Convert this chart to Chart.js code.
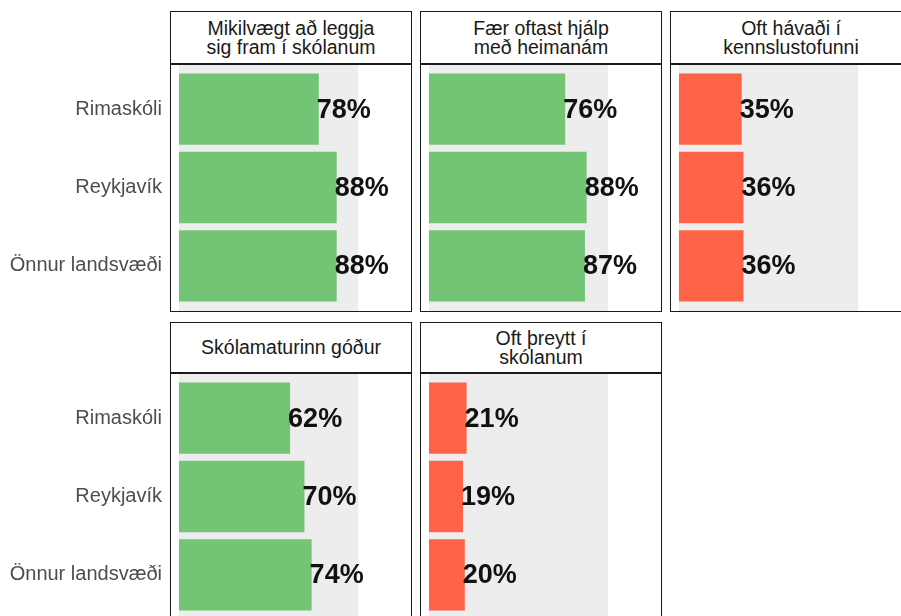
<!DOCTYPE html>
<html>
<head>
<meta charset="utf-8">
<script src="https://cdn.jsdelivr.net/npm/chart.js@4.4.1/dist/chart.umd.min.js"></script>
<style>
  body { margin: 0; background: #fff; font-family: Arial, "Liberation Sans", sans-serif; }
  #wrap { position: relative; width: 901px; height: 616px; overflow: hidden; }
  canvas { position: absolute; }
  .box { position: absolute; border: 1.5px solid #1a1a1a; box-sizing: border-box; pointer-events: none; }
  .head { position: absolute; border: 1.5px solid #1a1a1a; box-sizing: border-box; background: #fff;
          display: flex; align-items: center; justify-content: center; text-align: center;
          font-size: 19.5px; line-height: 19px; color: #1a1a1a; }
</style>
</head>
<body>
<div id="wrap"></div>
<script>
// data
const categories = ['Rimaskóli', 'Reykjavík', 'Önnur landsvæði'];
const panelTitles = [
  ['Mikilvægt að leggja', 'sig fram í skólanum'],
  ['Fær oftast hjálp', 'með heimanám'],
  ['Oft hávaði í', 'kennslustofunni'],
  ['Skólamaturinn góður'],
  ['Oft þreytt í', 'skólanum']
];
const leggjaFram = [78, 88, 88];
const hjalpHeimanam = [76, 88, 87];
const havadi = [35, 36, 36];
const skolamatur = [62, 70, 74];
const threytt = [21, 19, 20];
const panelValues = [leggjaFram, hjalpHeimanam, havadi, skolamatur, threytt];
const panelColors = ['#74c476', '#74c476', '#ff6347', '#74c476', '#ff6347'];

Chart.defaults.font.family = 'Arial, "Liberation Sans", sans-serif';

//---------------------------------------------------------------
const colLeft = [170, 420, 670];
const panelW = 242;
const rowTop = [11, 322];
const headH = [52, 50];
const bodyH = 249;
const axisW = 170;

// grey band 0..100
const greyBand = {
  id: 'greyBand',
  beforeDatasetsDraw(chart) {
    const x = chart.scales.x;
    const c = chart.ctx;
    const x0 = x.getPixelForValue(0), x1 = x.getPixelForValue(100);
    c.save();
    c.fillStyle = '#ededed';
    c.fillRect(x0, 0, x1 - x0, chart.height);
    c.restore();
  }
};

// percent text at the bar end
const valueLabels = {
  id: 'valueLabels',
  afterDatasetsDraw(chart) {
    const c = chart.ctx;
    const meta = chart.getDatasetMeta(0);
    const vals = chart.data.datasets[0].data;
    c.save();
    c.font = 'bold 27px Arial, "Liberation Sans", sans-serif';
    c.fillStyle = '#111';
    c.textAlign = 'left';
    c.textBaseline = 'middle';
    meta.data.forEach((bar, i) => {
      c.fillText(vals[i] + '%', bar.x - 2, bar.y + 1);
    });
    c.restore();
  }
};

const wrap = document.getElementById('wrap');

panelValues.forEach((vals, p) => {
  const col = p % 3, row = Math.floor(p / 3);
  const firstCol = col === 0;
  const top = rowTop[row] + headH[row];

  const cv = document.createElement('canvas');
  const left = firstCol ? 0 : colLeft[col];
  const w = firstCol ? colLeft[0] + panelW : panelW;
  cv.width = w; cv.height = bodyH;
  cv.style.left = left + 'px'; cv.style.top = top + 'px';
  cv.style.width = w + 'px'; cv.style.height = bodyH + 'px';
  wrap.appendChild(cv);

  new Chart(cv.getContext('2d'), {
    type: 'bar',
    data: {
      labels: categories,
      datasets: [{
        data: vals,
        backgroundColor: panelColors[p],
        barPercentage: 0.91,
        categoryPercentage: 1
      }]
    },
    options: {
      indexAxis: 'y',
      responsive: false,
      animation: false,
      devicePixelRatio: 1,
      layout: { padding: { top: 7, bottom: 7, left: 0, right: 0 } },
      plugins: { legend: { display: false }, tooltip: { enabled: false } },
      scales: {
        x: { min: -5, max: 130, display: false },
        y: {
          display: firstCol,
          grid: { display: false, drawTicks: false, tickLength: 0 },
          border: { display: false },
          ticks: { padding: 8, color: '#4d4d4d', font: { size: 20 } },
          afterFit(s) {
            if (firstCol) {
              s.width = axisW;
              s.paddingTop = 0;
              s.paddingBottom = 0;
            }
          }
        }
      }
    },
    plugins: [greyBand, valueLabels]
  });

  const head = document.createElement('div');
  head.className = 'head';
  head.style.left = colLeft[col] + 'px';
  head.style.top = rowTop[row] + 'px';
  head.style.width = panelW + 'px';
  head.style.height = (headH[row] + 1.5) + 'px';
  head.innerHTML = panelTitles[p].join('<br>');
  wrap.appendChild(head);

  const box = document.createElement('div');
  box.className = 'box';
  box.style.left = colLeft[col] + 'px';
  box.style.top = top + 'px';
  box.style.width = panelW + 'px';
  box.style.height = bodyH + 'px';
  wrap.appendChild(box);
});
</script>
</body>
</html>
